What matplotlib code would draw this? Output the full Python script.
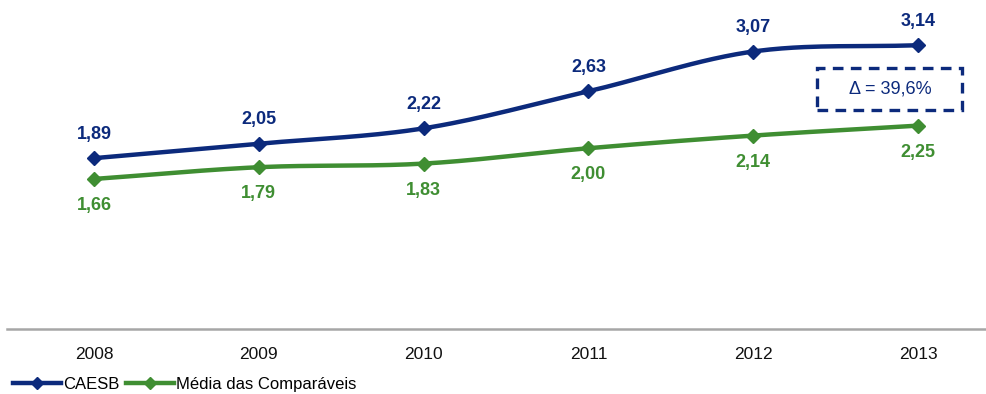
import numpy as np
import matplotlib.pyplot as plt
from matplotlib.lines import Line2D
from matplotlib.patches import FancyBboxPatch

plt.rcParams['font.family'] = ['Liberation Sans', 'DejaVu Sans']

years = ['2008', '2009', '2010', '2011', '2012', '2013']
caesb = [1.89, 2.05, 2.22, 2.63, 3.07, 3.14]
media = [1.66, 1.79, 1.83, 2.00, 2.14, 2.25]
delta_text = 'Δ = 39,6%'

BLUE = '#0c2a7c'
GREEN = '#3f8e32'


def smooth(xs, ys, n=30):
    """Catmull-Rom curve through the points (like a spreadsheet 'smoothed line')."""
    xs = np.asarray(xs, float)
    ys = np.asarray(ys, float)
    px = np.concatenate([[2 * xs[0] - xs[1]], xs, [2 * xs[-1] - xs[-2]]])
    py = np.concatenate([[2 * ys[0] - ys[1]], ys, [2 * ys[-1] - ys[-2]]])
    out_x, out_y = [], []
    t = np.linspace(0, 1, n)
    for i in range(1, len(px) - 2):
        for arr, src in ((out_x, px), (out_y, py)):
            p0, p1, p2, p3 = src[i - 1], src[i], src[i + 1], src[i + 2]
            arr.extend(0.5 * (2 * p1 + (-p0 + p2) * t
                              + (2 * p0 - 5 * p1 + 4 * p2 - p3) * t ** 2
                              + (-p0 + 3 * p1 - 3 * p2 + p3) * t ** 3))
    return np.array(out_x), np.array(out_y)


fig = plt.figure(figsize=(9.87, 3.94), dpi=100)
ax = fig.add_axes([7 / 987, (394 - 329) / 394, 980 / 987, 329 / 394])

x = np.arange(len(years))
for vals, color, offset, va in ((caesb, BLUE, 11, 'bottom'), (media, GREEN, -13, 'top')):
    sx, sy = smooth(x, vals)
    ax.plot(sx, sy, color=color, lw=3.2, solid_capstyle='round', zorder=3)
    ax.plot(x, vals, ls='none', marker='D', ms=7, color=color, zorder=4)
    for xi, v in zip(x, vals):
        ax.annotate(f'{v:.2f}'.replace('.', ','), (xi, v), xytext=(0, offset),
                    textcoords='offset points', ha='center', va=va,
                    fontsize=13, fontweight='bold', color=color)

ax.set_xlim(-0.528, 5.419)
ax.set_ylim(0, 3.64)

for side in ('top', 'right', 'left'):
    ax.spines[side].set_visible(False)
ax.spines['bottom'].set_color('#a6a6a6')
ax.spines['bottom'].set_linewidth(1.8)
ax.set_yticks([])
ax.set_xticks(x)
ax.set_xticklabels(years, fontsize=12.5, color='#111111')
ax.tick_params(axis='x', length=0, pad=13)

# dashed box with the variation
box = FancyBboxPatch((4.39, 2.42), 0.88, 0.465, boxstyle='square,pad=0',
                     fill=False, ec=BLUE, lw=2.4, ls=(0, (3.2, 2.2)),
                     transform=ax.transData, clip_on=False)
ax.add_patch(box)
ax.text(4.83, 2.655, delta_text, ha='center', va='center', fontsize=13, color=BLUE)

handles = [Line2D([], [], color=BLUE, lw=3.2, marker='D', ms=6),
           Line2D([], [], color=GREEN, lw=3.2, marker='D', ms=6)]
fig.legend(handles, ['CAESB', 'Média das Comparáveis'], loc='lower left',
           bbox_to_anchor=(-0.002, -0.032), ncol=2, frameon=False, fontsize=12,
           handlelength=2.9, handletextpad=0.1, columnspacing=0.4)

fig.savefig('out.png', dpi=100)
